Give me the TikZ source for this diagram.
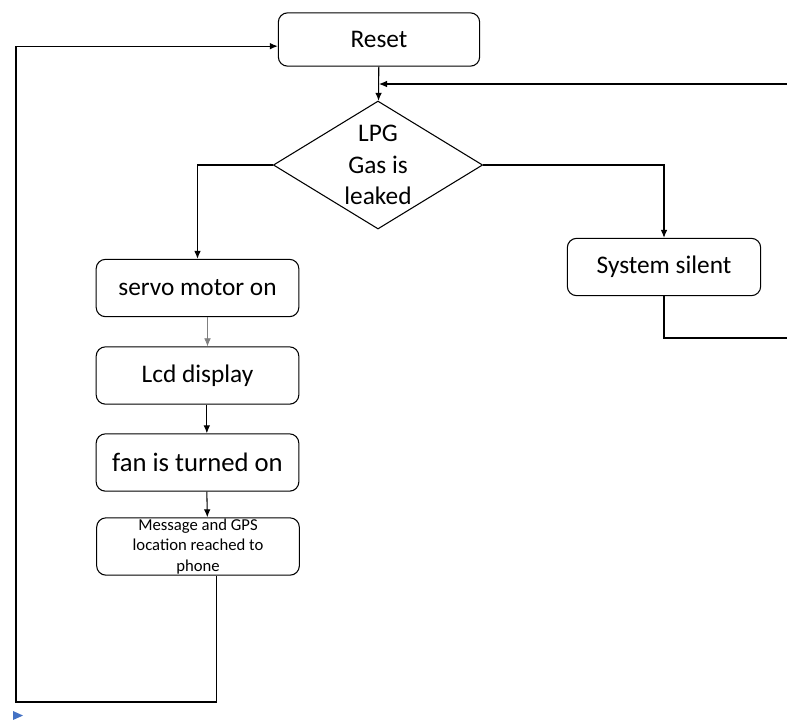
\documentclass[tikz,border=0pt]{standalone}
\usepackage{fontspec}
\setmainfont{Carlito}
\usetikzlibrary{shapes.geometric,arrows.meta}
\definecolor{marker}{RGB}{68,114,196}

\begin{document}
\begin{tikzpicture}[>={Latex[length=6pt,width=5pt]},x=0.75pt,y=-0.75pt,line width=0.8pt,
    box/.style={draw,rounded corners=7pt,minimum width=152pt,minimum height=43pt,
        inner sep=1pt,align=center,font=\fontsize{19}{23}\selectfont},
    decision/.style={draw,diamond,aspect=1.64,minimum width=157pt,minimum height=96pt,
        inner sep=0pt,align=center,font=\fontsize{19}{23.5}\selectfont}]
    \useasboundingbox (0,0) rectangle (787,719);
    \node[box,minimum width=151pt,minimum height=40pt] (reset) at (379,39.5){Reset};
    \node[decision] (dia) at (378,165){LPG\\Gas is\\leaked};
    \node[box] (servo) at (197.5,288){servo motor on};
    \node[box] (lcd) at (197.5,375.5){Lcd display};
    \node[box,font=\fontsize{20}{24}\selectfont] (fan) at (197.5,462.5){fan is turned on};
    \node[box,inner ysep=0pt,font=\fontsize{12.5}{15.5}\selectfont] (msg) at (198,546.5)
        {Message and GPS\\location reached to\\phone};
    \node[box,minimum width=145pt] (silent) at (664,267){System silent};
    \coordinate (rin) at (787,84);
    \coordinate (rout) at (787,338);
    \coordinate (lcorner) at (16,702);
    % main flow
    \draw[->] (reset) -- (dia);
    \draw[->] (dia.west) -| (servo.north);
    \draw[->] (dia.east) -| (silent.north);
    \draw[->,gray,line width=0.5pt] ([xshift=7.5pt]servo.south) -- ([xshift=7.5pt]lcd.north);
    \draw[->] ([xshift=7pt]lcd.south) -- ([xshift=7pt]fan.north);
    \draw[->] ([xshift=7pt]fan.south) -- ([xshift=7pt]msg.north);
    % loops back
    \draw[->] (rin) -- (rin -| reset.south);
    \draw (silent.south) |- (rout);
    \draw[->] ([xshift=14pt]msg.south) |- (lcorner) |- ([yshift=-5pt]reset.west);
    \fill[marker] (13,711) -- (23,715.5) -- (13,720) -- cycle;
\end{tikzpicture}
\end{document}
